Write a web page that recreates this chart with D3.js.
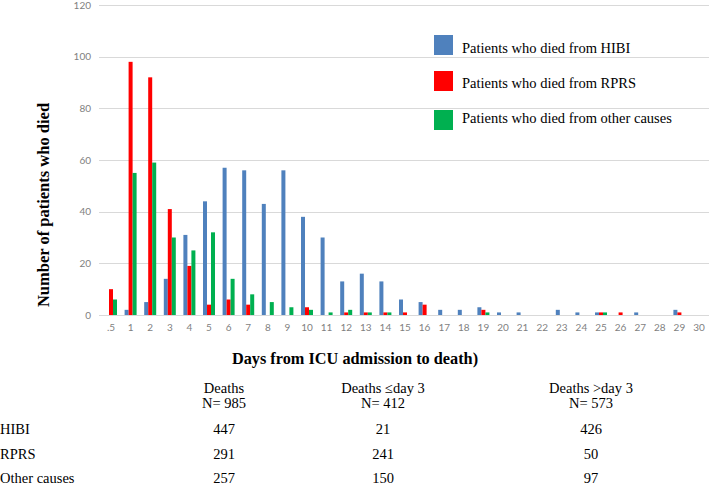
<!DOCTYPE html>
<html>
<head>
<meta charset="utf-8">
<script src="https://cdn.jsdelivr.net/npm/d3@7"></script>
<style>
  body { margin: 0; background: #fff; }
  svg { display: block; }
</style>
</head>
<body>
<svg id="chart" width="709" height="488"></svg>
<script>
// categories (days from ICU admission)
var days = [".5","1","2","3","4","5","6","7","8","9","10","11","12","13","14","15",
            "16","17","18","19","20","21","22","23","24","25","26","27","28","29","30"];

// deaths per day, by cause
var hibi  = [0, 2, 5,14,31,44,57,56,43,56,38,30,13,16,13, 6, 5, 2, 2, 3, 1, 1, 0, 2, 1, 1, 0, 1, 0, 2, 0];
var rprs  = [10,98,92,41,19, 4, 6, 4, 0, 0, 3, 0, 1, 1, 1, 1, 4, 0, 0, 2, 0, 0, 0, 0, 0, 1, 1, 0, 0, 1, 0];
var other = [6,55,59,30,25,32,14, 8, 5, 3, 2, 1, 2, 1, 1, 0, 0, 0, 0, 1, 0, 0, 0, 0, 0, 1, 0, 0, 0, 0, 0];

var seriesNames = ["Patients who died from HIBI", "Patients who died from RPRS", "Patients who died from other causes"];
var seriesColors = ["#4f81bd", "#ff0000", "#00b050"];

var yTicks = [0, 20, 40, 60, 80, 100, 120];

// summary table below the chart
var tableHead = [["Deaths", "N= 985"], ["Deaths \u2264day 3", "N= 412"], ["Deaths >day 3", "N= 573"]];
var tableRows = ["HIBI", "RPRS", "Other causes"];
var tableVals = [[447, 21, 426], [291, 241, 50], [257, 150, 97]];

var svg = d3.select("#chart");

// -- scales
var x = d3.scaleBand().domain(days).range([101.2, 708.8]).padding(0);
var x1 = d3.scaleBand().domain([0, 1, 2]).range([0, x.bandwidth()]).paddingInner(0).paddingOuter(0.95);
var y = d3.scaleLinear().domain([0, 120]).range([315, 5]);

// -- gridlines
svg.append("g").selectAll("line")
  .data(yTicks).enter().append("line")
  .attr("x1", 99).attr("x2", 709)
  .attr("y1", function(d) { return Math.round(y(d)) + 0.5; })
  .attr("y2", function(d) { return Math.round(y(d)) + 0.5; })
  .attr("stroke", "#d9d9d9").attr("stroke-width", 1);

// -- y axis labels
var yAxis = svg.append("g").attr("transform", "translate(91,0)")
  .call(d3.axisLeft(y).tickValues(yTicks).tickSize(0).tickPadding(0));
yAxis.select(".domain").remove();
yAxis.selectAll("text").attr("fill", "#7f7f7f").style("font-family", "Lato").style("font-size", "10px");

// -- x axis labels
var xAxis = svg.append("g").attr("transform", "translate(0,324)")
  .call(d3.axisBottom(x).tickSize(0).tickPadding(0));
xAxis.select(".domain").remove();
xAxis.selectAll("text").attr("fill", "#7f7f7f").style("font-family", "Lato").style("font-size", "10px");

// -- bars
var all = [hibi, rprs, other];
all.forEach(function(vals, s) {
  svg.append("g").selectAll("rect")
    .data(vals).enter().append("rect")
    .attr("x", function(d, i) { return x(days[i]) + x1(s); })
    .attr("width", x1.bandwidth())
    .attr("y", function(d) { return y(d); })
    .attr("height", function(d) { return y(0) - y(d); })
    .attr("fill", seriesColors[s]);
});

// -- legend (squares and labels sit on slightly different rows in the original)
var boxY = [35, 71, 110];
var labelY = [53, 88, 123];
var legend = svg.append("g");
legend.selectAll("rect")
  .data(seriesNames).enter().append("rect")
  .attr("x", 434).attr("y", function(d, i) { return boxY[i]; })
  .attr("width", 19).attr("height", 20)
  .attr("fill", function(d, i) { return seriesColors[i]; });
legend.selectAll("text")
  .data(seriesNames).enter().append("text")
  .attr("x", 462).attr("y", function(d, i) { return labelY[i]; })
  .style("font-family", "Liberation Serif").style("font-size", "14.5px")
  .attr("fill", "#000").text(function(d) { return d; });

// -- axis titles
svg.append("text")
  .attr("transform", "translate(49,205) rotate(-90)")
  .attr("text-anchor", "middle")
  .style("font-family", "Liberation Serif").style("font-weight", "bold").style("font-size", "16.5px")
  .text("Number of patients who died");

svg.append("text")
  .attr("x", 355).attr("y", 364)
  .attr("text-anchor", "middle")
  .style("font-family", "Liberation Serif").style("font-weight", "bold").style("font-size", "16.3px")
  .text("Days from ICU admission to death)");

// -- table
var colX = [224, 383, 591];
var tbl = svg.append("g").style("font-family", "Liberation Serif").style("font-size", "14.5px");
tableHead.forEach(function(h, c) {
  tbl.append("text").attr("x", colX[c]).attr("y", 393).attr("text-anchor", "middle").text(h[0]);
  tbl.append("text").attr("x", colX[c]).attr("y", 408).attr("text-anchor", "middle").text(h[1]);
});
var rowY = [434, 459, 483];
tableRows.forEach(function(r, i) {
  tbl.append("text").attr("x", 0).attr("y", rowY[i]).text(r);
  tableVals[i].forEach(function(v, c) {
    tbl.append("text").attr("x", colX[c]).attr("y", rowY[i]).attr("text-anchor", "middle").text(v);
  });
});
</script>
</body>
</html>
